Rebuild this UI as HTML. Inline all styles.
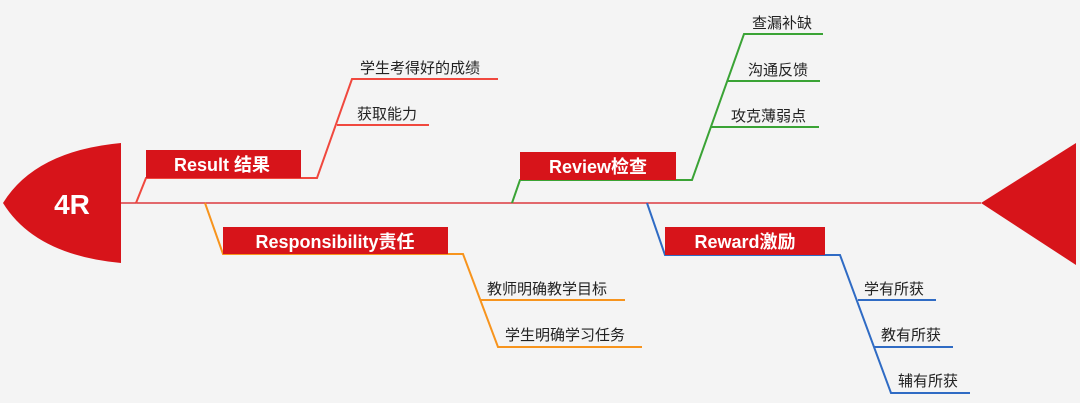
<!DOCTYPE html>
<html><head><meta charset="utf-8"><style>
html,body{margin:0;padding:0;background:#f4f4f4;}
svg{display:block}
text{font-family:"Liberation Sans","Noto Sans CJK SC",sans-serif;}
.l{font-size:15px;fill:#222;}
.b{font-size:18px;fill:#fff;font-weight:bold;}
</style></head><body>
<svg width="1080" height="403" viewBox="0 0 1080 403" xmlns="http://www.w3.org/2000/svg">
<rect width="1080" height="403" fill="#f4f4f4"/>
<!-- head -->
<path d="M121,143 L121,263 Q35,255 3,203 Q35,151 121,143 Z" fill="#d7141a"/>
<text x="72" y="214" text-anchor="middle" style="font-size:28px;font-weight:bold;fill:#fff">4R</text>
<!-- tail -->
<path d="M981,203 L1076,143 L1076,265 Z" fill="#d7141a"/>
<!-- spine -->
<line x1="121" y1="203" x2="981" y2="203" stroke="#d7141a" stroke-width="1.2"/>

<!-- Result -->
<g fill="none" stroke="#f0483e" stroke-width="2">
<polyline points="136,203 146,178 317,178 352,79 498,79"/>
<polyline points="337,125 429,125"/>
</g>
<rect x="146" y="150" width="155" height="28" fill="#d7141a"/>
<text class="b" x="222" y="171" text-anchor="middle">Result 结果</text>
<text class="l" x="360" y="73">学生考得好的成绩</text>
<text class="l" x="357" y="119">获取能力</text>

<!-- Responsibility -->
<g fill="none" stroke="#f7941d" stroke-width="2">
<polyline points="205,203 223,254 463,254 498,347 642,347"/>
<polyline points="480,300 625,300"/>
</g>
<rect x="223" y="227" width="225" height="27" fill="#d7141a"/>
<text class="b" x="335" y="248" text-anchor="middle">Responsibility责任</text>
<text class="l" x="487" y="294">教师明确教学目标</text>
<text class="l" x="505" y="340">学生明确学习任务</text>

<!-- Review -->
<g fill="none" stroke="#3aa335" stroke-width="2">
<polyline points="512,203 520,180 692,180 744,34 823,34"/>
<polyline points="728,81 820,81"/>
<polyline points="711,127 819,127"/>
</g>
<rect x="520" y="152" width="156" height="28" fill="#d7141a"/>
<text class="b" x="598" y="173" text-anchor="middle">Review检查</text>
<text class="l" x="752" y="28">查漏补缺</text>
<text class="l" x="748" y="75">沟通反馈</text>
<text class="l" x="731" y="121">攻克薄弱点</text>

<!-- Reward -->
<g fill="none" stroke="#2f6bc4" stroke-width="2">
<polyline points="647,203 665,255 840,255 891,393 970,393"/>
<polyline points="858,300 936,300"/>
<polyline points="874,347 953,347"/>
</g>
<rect x="665" y="227" width="160" height="28" fill="#d7141a"/>
<text class="b" x="745" y="248" text-anchor="middle">Reward激励</text>
<text class="l" x="864" y="294">学有所获</text>
<text class="l" x="881" y="340">教有所获</text>
<text class="l" x="898" y="386">辅有所获</text>
</svg>
</body></html>
